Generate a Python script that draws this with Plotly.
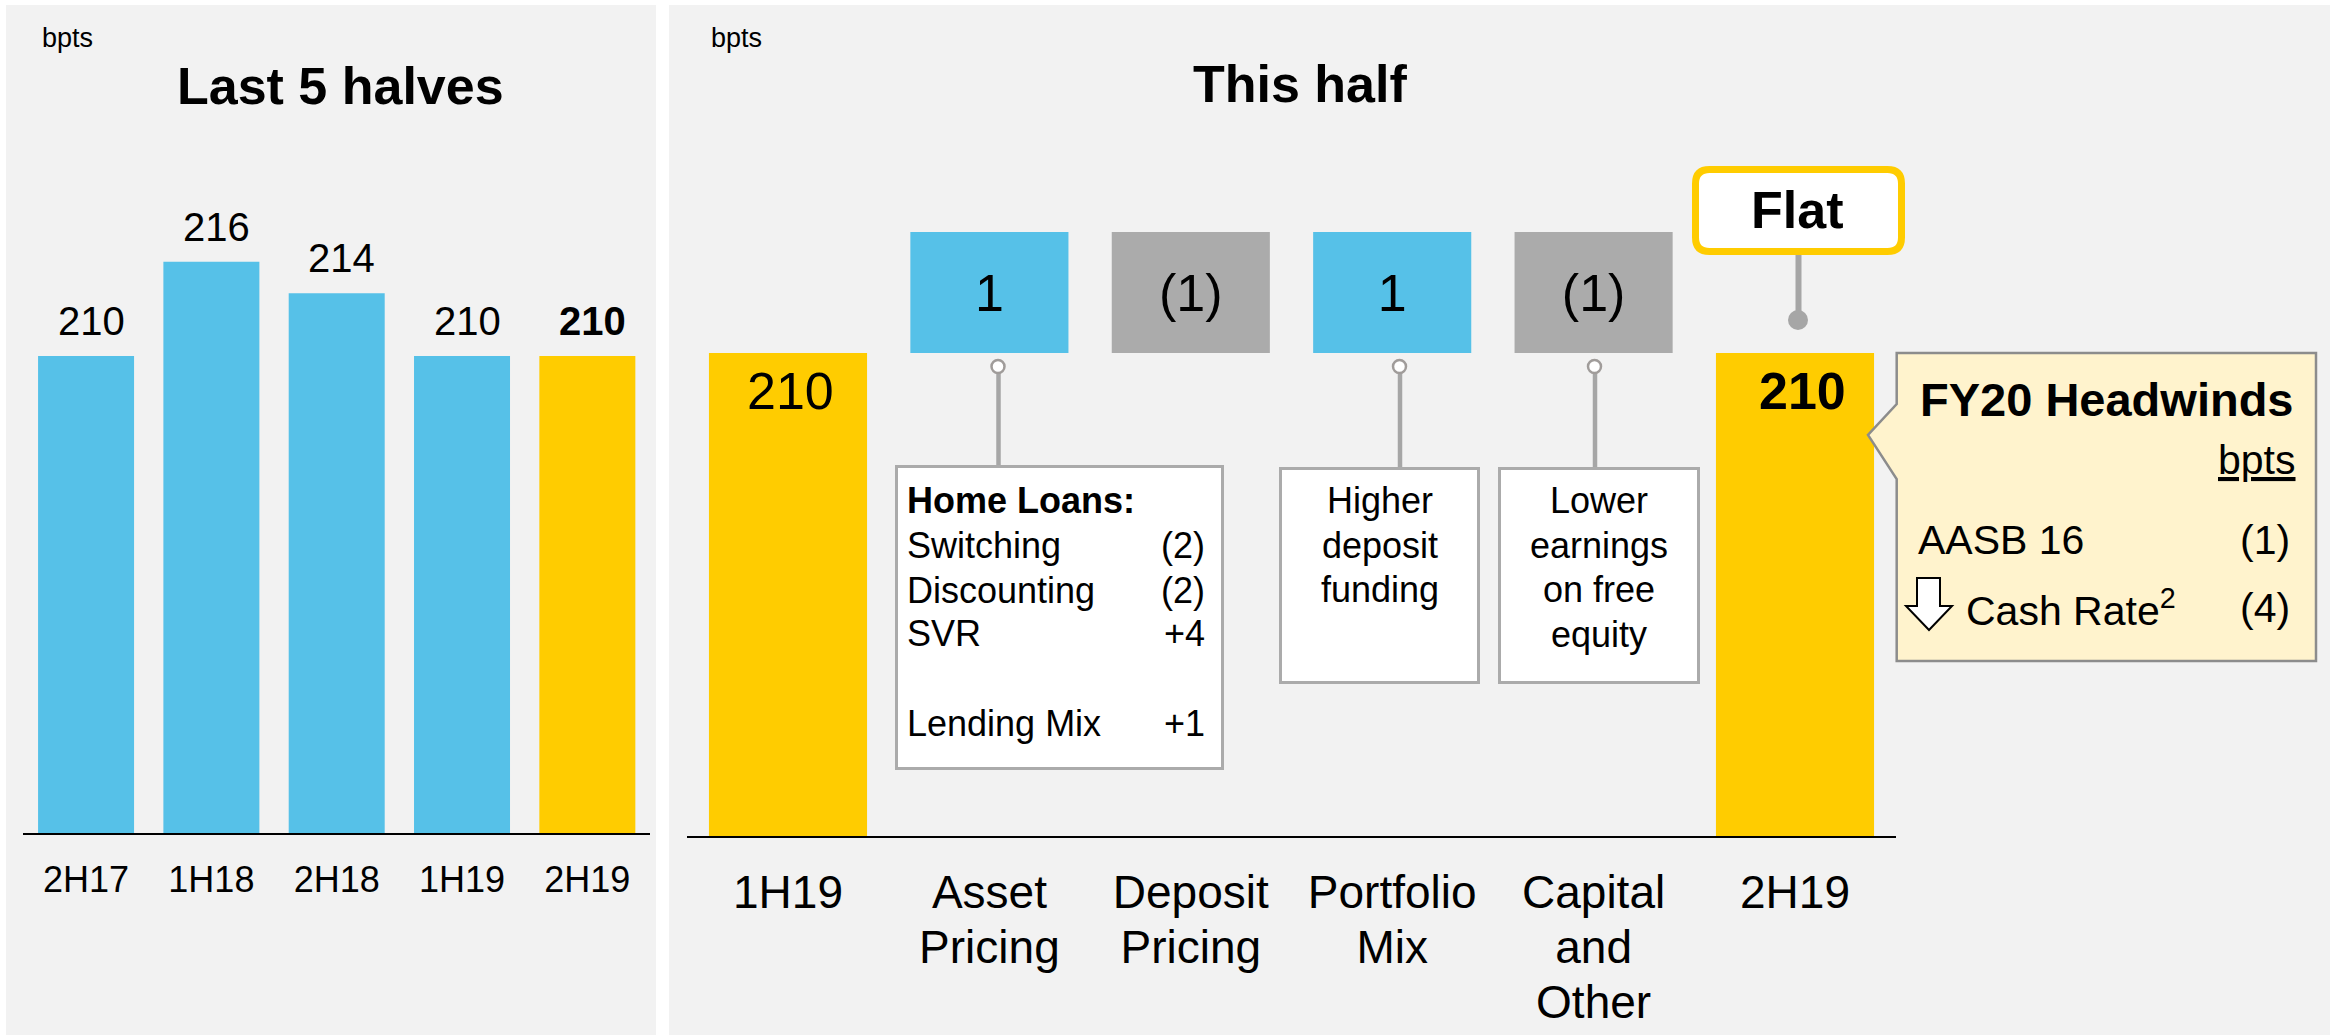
import plotly.graph_objects as go

W, H = 2336, 1035
FONT = "Arial, Liberation Sans, sans-serif"

# ---------------- data ----------------
HIST_PERIODS = ["2H17", "1H18", "2H18", "1H19", "2H19"]
HIST_NIM = [210, 216, 214, 210, 210]

BRIDGE_START_LABEL = "1H19"
BRIDGE_END_LABEL = "2H19"
BRIDGE_START = 210
BRIDGE_END = 210
DRIVER_LABELS = ["Asset<br>Pricing", "Deposit<br>Pricing", "Portfolio<br>Mix", "Capital<br>and<br>Other"]
DRIVER_DELTAS = [1, -1, 1, -1]
BRIDGE_CHANGE_TEXT = "Flat"

HOME_LOAN_ITEMS = ["Switching", "Discounting", "SVR", "Lending Mix"]
HOME_LOAN_VALUES = [-2, -2, 4, 1]
DEPOSIT_NOTE = ["Higher", "deposit", "funding"]
CAPITAL_NOTE = ["Lower", "earnings", "on free", "equity"]

HEADWIND_ITEMS = ["AASB 16", "Cash Rate<sup>2</sup>"]
HEADWIND_VALUES = [-1, -4]

# ---------------- style ----------------
BLUE = "#56C1E8"
YELLOW = "#FFCC00"
GREY = "#ABABAB"
PANEL = "#F2F2F2"
CONN = "#A6A6A6"


def px(x):
    return x / W


def py(y):
    return 1 - y / H


def fmt_box(v):
    return f"{v}" if v >= 0 else f"({-v})"


def fmt_item(v):
    return f"+{v}" if v > 0 else f"({-v})"


# axis scaling (pixel layout)
L_PXU = 15.7
L_Y0 = 210 - (833 - 356) / L_PXU
L_Y1 = L_Y0 + (833 - 100) / L_PXU
R_PXU = (836 - 353) / 210
R_Y1 = (836 - 150) / R_PXU
BOX_H = (353 - 232) / R_PXU

R_CATS = [BRIDGE_START_LABEL] + DRIVER_LABELS + [BRIDGE_END_LABEL]
R_TICKTEXT = ["<br>".join(f'<span style="font-size:46px">{part}</span>' for part in c.split("<br>"))
              for c in R_CATS]

fig = go.Figure()

# left chart
fig.add_trace(go.Bar(
    x=HIST_PERIODS, y=HIST_NIM,
    marker=dict(color=[BLUE] * (len(HIST_NIM) - 1) + [YELLOW], line=dict(width=0)),
    width=0.766, xaxis="x", yaxis="y", hoverinfo="skip",
))

# right chart: totals
fig.add_trace(go.Bar(
    x=[BRIDGE_START_LABEL, BRIDGE_END_LABEL], y=[BRIDGE_START, BRIDGE_END],
    marker=dict(color=YELLOW, line=dict(width=0)),
    width=0.785, xaxis="x2", yaxis="y2", hoverinfo="skip",
))
# right chart: driver boxes
fig.add_trace(go.Bar(
    x=DRIVER_LABELS, y=[BOX_H] * len(DRIVER_DELTAS), base=[BRIDGE_START] * len(DRIVER_DELTAS),
    marker=dict(color=[BLUE if d > 0 else GREY for d in DRIVER_DELTAS], line=dict(width=0)),
    width=0.785, xaxis="x2", yaxis="y2", hoverinfo="skip",
    text=[fmt_box(d) for d in DRIVER_DELTAS], textposition="inside",
    insidetextanchor="middle", constraintext="none",
    textfont=dict(size=52, family=FONT, color="black"),
))

annotations = []
shapes = []


def txt(x, baseline, s, size, anchor="left", color="black"):
    annotations.append(dict(
        xref="paper", yref="paper", x=px(x), y=py(baseline - 0.3465 * size),
        xanchor=anchor, yanchor="middle", text=s, showarrow=False,
        font=dict(size=size, family=FONT, color=color),
    ))


def rect(x0, y0, x1, y1, fill, line=None, lw=0, layer="above"):
    shapes.append(dict(
        type="rect", xref="paper", yref="paper", x0=px(x0), x1=px(x1), y0=py(y0), y1=py(y1),
        fillcolor=fill, line=dict(color=line or fill, width=lw), layer=layer,
    ))


def path(pts, fill, line, lw, closed=True):
    d = "M" + " L".join(f"{px(a):.6f},{py(b):.6f}" for a, b in pts) + (" Z" if closed else "")
    shapes.append(dict(type="path", xref="paper", yref="paper", path=d,
                       fillcolor=fill, line=dict(color=line, width=lw), layer="above"))


def line(x0, y0, x1, y1, color, lw):
    shapes.append(dict(type="line", xref="paper", yref="paper", x0=px(x0), x1=px(x1),
                       y0=py(y0), y1=py(y1), line=dict(color=color, width=lw), layer="above"))


def circle(cx, cy, r, fill, lcol, lw):
    shapes.append(dict(type="circle", xref="paper", yref="paper",
                       x0=px(cx - r), x1=px(cx + r), y0=py(cy + r), y1=py(cy - r),
                       fillcolor=fill, line=dict(color=lcol, width=lw), layer="above"))


# panels
rect(6, 5, 656, 1035, PANEL, layer="below")
rect(669, 5, 2330, 1035, PANEL, layer="below")

# titles
txt(40, 47, "bpts", 27)
txt(709, 47, "bpts", 27)
txt(340, 104, "<b>Last 5 halves</b>", 52, anchor="center")
txt(1300, 102, "<b>This half</b>", 52, anchor="center")

# left value labels
for i, (p, v) in enumerate(zip(HIST_PERIODS, HIST_NIM)):
    s = f"<b>{v}</b>" if i == len(HIST_NIM) - 1 else f"{v}"
    annotations.append(dict(xref="x", yref="y", x=p, y=v, xanchor="center", yanchor="middle",
                            xshift=5, yshift=35, text=s, showarrow=False,
                            font=dict(size=40, family=FONT, color="black")))

# right total labels
annotations.append(dict(xref="x2", yref="y2", x=BRIDGE_START_LABEL, y=BRIDGE_START,
                        xanchor="center", yanchor="middle", xshift=2, yshift=-38,
                        text=f"{BRIDGE_START}", showarrow=False,
                        font=dict(size=52, family=FONT, color="black")))
annotations.append(dict(xref="x2", yref="y2", x=BRIDGE_END_LABEL, y=BRIDGE_END,
                        xanchor="center", yanchor="middle", xshift=7, yshift=-38,
                        text=f"<b>{BRIDGE_END}</b>", showarrow=False,
                        font=dict(size=52, family=FONT, color="black")))

# connectors with hollow circles
for cx, bottom in [(998.5, 466), (1400, 468), (1595, 468)]:
    line(cx, 373, cx, bottom, CONN, 4.5)
    circle(cx - 0.5, 366.5, 6.5, "white", "#A09C9A", 2.5)

# Home loans box
rect(896.5, 466.5, 1222.5, 768.5, "white", GREY, 3)
txt(905, 513, "<b>Home Loans:</b>", 36)
hl_baselines = [558, 602.5, 646, 736]
for b, lab, v in zip(hl_baselines, HOME_LOAN_ITEMS, HOME_LOAN_VALUES):
    txt(905, b, lab, 36)
    txt(1207, b, fmt_item(v), 36, anchor="right")

# deposit note box
rect(1280.5, 468.5, 1478.5, 682.5, "white", GREY, 3)
for k, s in enumerate(DEPOSIT_NOTE):
    txt(1380, 513 + 44.5 * k, s, 36, anchor="center")

# capital note box
rect(1499.5, 468.5, 1698.5, 682.5, "white", GREY, 3)
for k, s in enumerate(CAPITAL_NOTE):
    txt(1599, 513 + 44.5 * k, s, 36, anchor="center")

# Flat callout (rounded)
x1, x2, y1, y2, r = 1695.5, 1901.5, 169.5, 251.5, 14
d = (f"M{px(x1 + r)},{py(y1)} L{px(x2 - r)},{py(y1)} Q{px(x2)},{py(y1)} {px(x2)},{py(y1 + r)} "
     f"L{px(x2)},{py(y2 - r)} Q{px(x2)},{py(y2)} {px(x2 - r)},{py(y2)} "
     f"L{px(x1 + r)},{py(y2)} Q{px(x1)},{py(y2)} {px(x1)},{py(y2 - r)} "
     f"L{px(x1)},{py(y1 + r)} Q{px(x1)},{py(y1)} {px(x1 + r)},{py(y1)} Z")
shapes.append(dict(type="path", xref="paper", yref="paper", path=d, fillcolor="white",
                   line=dict(color=YELLOW, width=7), layer="above"))
txt(1797, 228, f"<b>{BRIDGE_CHANGE_TEXT}</b>", 52, anchor="center")
line(1798.5, 255, 1798.5, 318, CONN, 6)
circle(1798, 320, 10, CONN, CONN, 0)

# FY20 headwinds callout
path([(1896.7, 353), (2316, 353), (2316, 661), (1896.7, 661), (1896.7, 479),
      (1868, 435), (1896.7, 404)], "#FFF3CD", "#8C8C8C", 2.5)
txt(1918, 415.5, "<b>FY20 Headwinds</b>", 47)
txt(2298, 474, "<u>bpts</u>", 41, anchor="right")
hw_baselines = [554, 622]
hw_x = [1916, 1964]
for b, xx, lab, v in zip(hw_baselines, hw_x, HEADWIND_ITEMS, HEADWIND_VALUES):
    txt(xx, b, lab, 41)
    txt(2292, b, fmt_box(v), 41, anchor="right")
# down arrow
path([(1917, 578), (1940, 578), (1940, 606), (1952, 606), (1929, 630), (1906, 606), (1917, 606)],
     "white", "black", 2)

fig.update_layout(
    template="none",
    width=W, height=H, margin=dict(l=0, r=0, t=0, b=0, pad=0, autoexpand=False),
    paper_bgcolor="white", plot_bgcolor="rgba(0,0,0,0)",
    showlegend=False, barmode="overlay",
    font=dict(family=FONT, color="black"),
    xaxis=dict(domain=[px(23.4), px(650)], range=[-0.5, 4.5], type="category",
               categoryorder="array", categoryarray=HIST_PERIODS, automargin=False,
               showline=True, linecolor="black", linewidth=2, showgrid=False, zeroline=False,
               ticks="", tickfont=dict(size=36, family=FONT, color="black"),
               ticklabelstandoff=14, fixedrange=True),
    yaxis=dict(domain=[py(833), py(100)], range=[L_Y0, L_Y1], visible=False,
               automargin=False, fixedrange=True),
    xaxis2=dict(domain=[px(687.3), px(1895.7)], range=[-0.5, 5.5], type="category",
                categoryorder="array", automargin=False, categoryarray=R_CATS,
                tickmode="array", tickvals=R_CATS, ticktext=R_TICKTEXT,
                showline=True, linecolor="black", linewidth=2, showgrid=False, zeroline=False,
                ticks="", tickfont=dict(size=42, family=FONT, color="black"),
                ticklabelstandoff=20, anchor="y2", fixedrange=True),
    yaxis2=dict(domain=[py(836), py(150)], range=[0, R_Y1], visible=False, anchor="x2",
                automargin=False, fixedrange=True),
    annotations=annotations, shapes=shapes,
)

fig.write_html(
    "out.html",
    config={"displayModeBar": False, "staticPlot": True},
    post_script="document.body.style.margin='0';document.body.style.overflow='hidden';",
)
